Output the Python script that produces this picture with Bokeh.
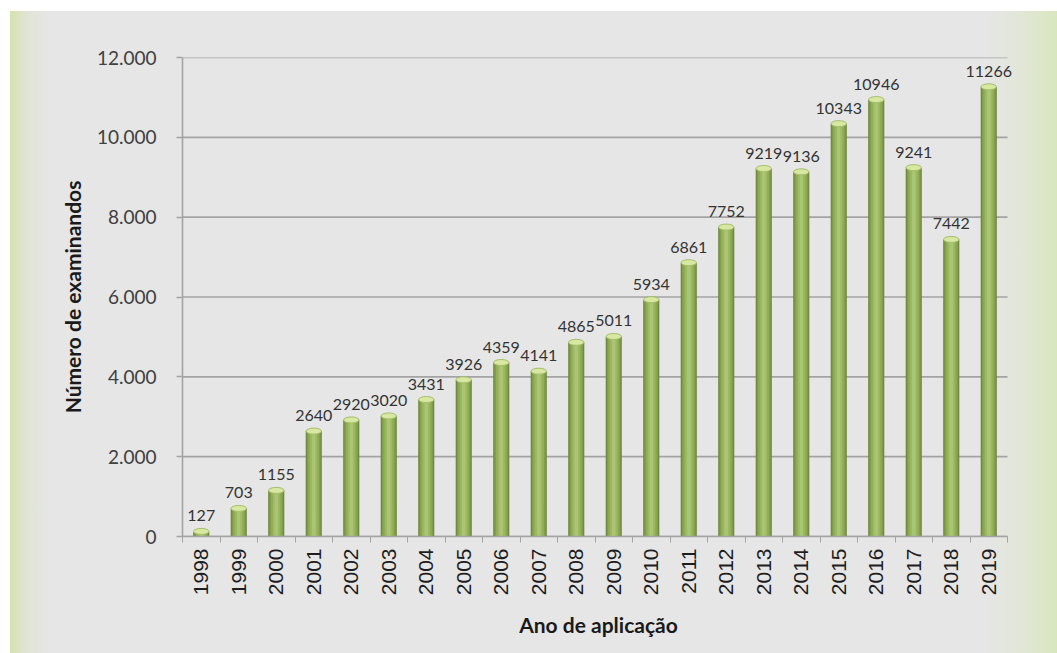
import math
from bokeh.plotting import figure
from bokeh.models import ColumnDataSource, FixedTicker, Range1d, LabelSet
from bokeh.core.properties import value
from bokeh.embed import file_html
from bokeh.resources import INLINE

# ---- data ----
years = [1998, 1999, 2000, 2001, 2002, 2003, 2004, 2005, 2006, 2007, 2008,
         2009, 2010, 2011, 2012, 2013, 2014, 2015, 2016, 2017, 2018, 2019]
examinees = [127, 703, 1155, 2640, 2920, 3020, 3431, 3926, 4359, 4141, 4865,
             5011, 5934, 6861, 7752, 9219, 9136, 10343, 10946, 9241, 7442, 11266]
y_ticks = [0, 2000, 4000, 6000, 8000, 10000, 12000]
y_tick_labels = ["0", "2.000", "4.000", "6.000", "8.000", "10.000", "12.000"]
x_title = "Ano de aplicação"
y_title = "Número de examinandos"

source = ColumnDataSource(dict(
    year=years,
    n=examinees,
    label=[str(v) for v in examinees],
))

W, H = 1057, 653
x_lo, x_hi = years[0] - 0.5, years[-1] + 0.5
# frame spans 182..1014 px; categories occupy 182..1007 px (room for last label)
x_end = x_hi + 7.0 / 37.5

p = figure(width=W, height=H, output_backend="svg", toolbar_location=None,
           x_range=Range1d(x_lo, x_end),
           y_range=Range1d(0, 12000),
           min_border_left=182, min_border_right=43,
           min_border_top=57, min_border_bottom=117)
p.outline_line_color = None
p.background_fill_color = None
p.border_fill_color = None
p.styles = {
    "background": (
        "linear-gradient(#ffffff, #ffffff) top left / 100% 11px no-repeat, "
        "linear-gradient(to right, #ffffff 0px, #ffffff 10px, #d5e2ad 10px, "
        "#e0e4d4 26px, #e6e6e6 50px, #e6e6e6 985px, #e2e6d8 1020px, #d9e6bd 1057px)"
    ),
    "height": "653px",
    "width": "1057px",
}

# grid (horizontal lines limited to the category span)
p.xgrid.grid_line_color = None
p.ygrid.grid_line_color = None
p.segment(x0=[x_lo] * len(y_ticks), x1=[x_hi] * len(y_ticks), y0=y_ticks, y1=y_ticks,
          line_color="#a3a3a3", line_width=1.6, level="underlay")

# cylinder-like bars
layers = [(0.43, "#6f873d"), (0.37, "#809c4a"), (0.29, "#8fac57"),
          (0.19, "#9eb965"), (0.09, "#abc672")]
for w, c in layers:
    p.vbar(x="year", top="n", width=w, source=source, fill_color=c, line_color=None)
p.ellipse(x="year", y="n", width=0.41, height=6, height_units="screen",
          source=source, fill_color="#d8e8a2", line_color="#a5bd6a", line_width=1)

# data labels
labels = LabelSet(x="year", y="n", text="label", source=source, y_offset=10,
                  text_align="center", text_baseline="bottom",
                  text_font=value("Lato"), text_font_size=value("16px"),
                  text_color=value("#333333"))
p.add_layout(labels)

# axes
ax = p.xaxis[0]
ax.bounds = (x_lo, x_hi)
ax.ticker = FixedTicker(ticks=years, minor_ticks=[y - 0.5 for y in years] + [x_hi])
ax.major_tick_line_color = None
ax.minor_tick_line_color = "#a3a3a3"
ax.minor_tick_out = 6
ax.minor_tick_in = 0
ax.axis_line_color = "#a3a3a3"
ax.axis_line_width = 1.6
ax.major_label_orientation = math.pi / 2
ax.major_label_standoff = 6
ax.major_label_text_font = "Liberation Sans"
ax.major_label_text_font_size = "21px"
ax.major_label_text_color = "#1e1e1e"
ax.axis_label = x_title
ax.axis_label_text_font = "Lato"
ax.axis_label_text_font_style = "bold"
ax.axis_label_text_font_size = "21px"
ax.axis_label_text_color = "#1a1a1a"
ax.axis_label_standoff = 14

ay = p.yaxis[0]
ay.ticker = FixedTicker(ticks=y_ticks)
ay.major_label_overrides = {t: s for t, s in zip(y_ticks, y_tick_labels)}
ay.minor_tick_line_color = None
ay.major_tick_line_color = "#a3a3a3"
ay.major_tick_line_width = 1.6
ay.major_tick_out = 6
ay.major_tick_in = 0
ay.axis_line_color = "#a3a3a3"
ay.axis_line_width = 1.6
ay.major_label_standoff = 20
ay.major_label_text_font = "Lato"
ay.major_label_text_font_size = "19px"
ay.major_label_text_color = "#404040"
ay.axis_label = y_title
ay.axis_label_text_font = "Lato"
ay.axis_label_text_font_style = "bold"
ay.axis_label_text_font_size = "21px"
ay.axis_label_text_color = "#1a1a1a"
ay.axis_label_standoff = 9

html = file_html(p, INLINE)
html = html.replace("<head>", "<head><style>html,body{margin:0;padding:0;background:#e6e6e6;}</style>", 1)
open("out.html", "w").write(html)
